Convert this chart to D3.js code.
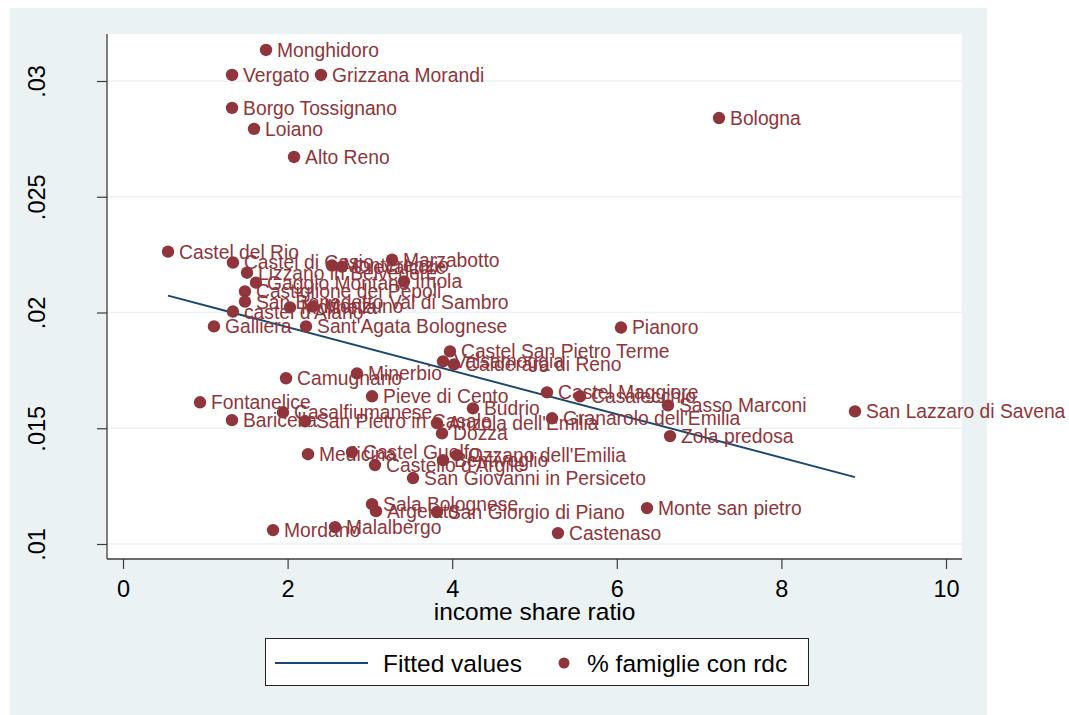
<!DOCTYPE html>
<html>
<head>
<meta charset="utf-8">
<script src="https://cdn.jsdelivr.net/npm/d3@7"></script>
<style>
  html, body { margin: 0; padding: 0; background: #ffffff; }
  svg { display: block; font-family: "Liberation Sans", Arial, Helvetica, sans-serif; }
</style>
</head>
<body>
<div id="chart"></div>
<script>
// ---- Data ----
const comuni = [
  "Monghidoro","Vergato","Grizzana Morandi","Borgo Tossignano","Loiano","Bologna","Alto Reno",
  "Castel del Rio","Castel di Casio","Marzabotto","Monterenzio","Crevalcore","Lizzano in Belvedere",
  "Gaggio Montano","Imola","Castiglione dei Pepoli","San Benedetto Val di Sambro","Molinella","Monzuno",
  "castel d'Aiano","Galliera","Sant'Agata Bolognese","Pianoro","Castel San Pietro Terme","Valsamoggia",
  "Calderara di Reno","Camugnano","Minerbio","Pieve di Cento","Fontanelice","Casalfiumanese","Baricella",
  "San Pietro in Casale","Budrio","Castel Maggiore","Casalecchio","Sasso Marconi","San Lazzaro di Savena",
  "Granarolo dell'Emilia","Anzola dell'Emilia","Dozza","Zola predosa","Medicina","Castel Guelfo",
  "Castello d'Argile","Bentivoglio","Ozzano dell'Emilia","San Giovanni in Persiceto","Sala Bolognese",
  "Argelato","San Giorgio di Piano","Monte san pietro","Malalbergo","Mordano","Castenaso"
];
const incomeShareRatio = [
  1.738,1.325,2.406,1.325,1.592,7.242,2.078,
  0.547,1.336,3.269,2.539,2.661,1.507,
  1.616,3.414,1.482,1.482,2.029,2.309,
  1.336,1.105,2.224,6.051,3.973,3.888,
  4.022,1.981,2.843,3.026,0.936,1.944,1.324,
  2.211,4.252,5.152,5.553,6.622,8.894,
  5.213,3.815,3.876,6.647,2.248,2.782,
  3.062,3.888,4.058,3.524,3.026,
  3.074,3.815,6.367,2.576,1.823,5.285
];
const famiglieRdc = [
  0.03134,0.03026,0.03026,0.02884,0.02793,0.02840,0.02672,
  0.02263,0.02216,0.02228,0.02203,0.02198,0.02172,
  0.02129,0.02134,0.02091,0.02047,0.02022,0.02026,
  0.02004,0.01940,0.01940,0.01935,0.01832,0.01789,
  0.01776,0.01716,0.01737,0.01638,0.01612,0.01569,0.01535,
  0.01530,0.01586,0.01655,0.01638,0.01599,0.01573,
  0.01543,0.01522,0.01478,0.01466,0.01388,0.01397,
  0.01341,0.01362,0.01384,0.01285,0.01172,
  0.01142,0.01138,0.01155,0.01073,0.01060,0.01047
];
// Fitted values (endpoints of the straight fit line)
const fitX = [0.547, 8.894];
const fitY = [0.02073, 0.01289];

const xTicks = [0, 2, 4, 6, 8, 10];
const yTicks = [0.01, 0.015, 0.02, 0.025, 0.03];
const yTickLabels = [".01", ".015", ".02", ".025", ".03"];
const xTitle = "income share ratio";
const legendLabels = ["Fitted values", "% famiglie con rdc"];

// ---- Layout & style ----
const W = 1069, H = 715;
const BG = "#eaf2f3";
const MARK = "#90353b";
const LINE = "#1a476f";
const AXIS = "#3c3c3c";
const plot = { left: 107, right: 962, top: 34, bottom: 559 };

const svg = d3.select("#chart").append("svg").attr("width", W).attr("height", H);

// outer background
svg.append("rect").attr("x", 10).attr("y", 8).attr("width", 977).attr("height", 707).attr("fill", BG);
// plot region
svg.append("rect").attr("x", plot.left).attr("y", plot.top)
  .attr("width", plot.right - plot.left).attr("height", plot.bottom - plot.top).attr("fill", "#ffffff");

const x = d3.scaleLinear().domain([0, 10]).range([123, 946]);
const y = d3.scaleLinear().domain([0.01, 0.03]).range([544, 81]);

// gridlines
svg.append("g").selectAll("line").data(yTicks).join("line")
  .attr("x1", plot.left).attr("x2", plot.right)
  .attr("y1", d => y(d)).attr("y2", d => y(d))
  .attr("stroke", BG).attr("stroke-width", 1.6);

// Y axis
const yAxis = d3.axisLeft(y).tickValues(yTicks).tickSize(10).tickPadding(0)
  .tickFormat((d, i) => yTickLabels[i]);
const gy = svg.append("g").attr("transform", `translate(${plot.left},0)`).call(yAxis);
gy.select(".domain").remove();
gy.selectAll(".tick line").attr("stroke", AXIS).attr("stroke-width", 1.2);
gy.selectAll(".tick text")
  .attr("x", null).attr("dy", null)
  .attr("text-anchor", "middle")
  .attr("transform", "translate(-62,0) rotate(-90)")
  .attr("fill", "#000").style("font-size", "23.5px");

// X axis
const xAxis = d3.axisBottom(x).tickValues(xTicks).tickSize(10).tickPadding(0)
  .tickFormat(d3.format("d"));
const gx = svg.append("g").attr("transform", `translate(0,${plot.bottom})`).call(xAxis);
gx.select(".domain").remove();
gx.selectAll(".tick line").attr("stroke", AXIS).attr("stroke-width", 1.2);
gx.selectAll(".tick text").attr("y", 38).attr("dy", null)
  .attr("fill", "#000").style("font-size", "23.5px");

// axis lines
svg.append("line").attr("x1", plot.left).attr("x2", plot.left).attr("y1", plot.top).attr("y2", plot.bottom)
  .attr("stroke", AXIS).attr("stroke-width", 1.3);
svg.append("line").attr("x1", plot.left).attr("x2", plot.right).attr("y1", plot.bottom).attr("y2", plot.bottom)
  .attr("stroke", AXIS).attr("stroke-width", 1.3);

// x title
svg.append("text").attr("x", (plot.left + plot.right) / 2).attr("y", 620)
  .attr("text-anchor", "middle").style("font-size", "24.5px").attr("fill", "#000").text(xTitle);

// fitted line
const fitData = fitX.map((v, i) => [v, fitY[i]]);
svg.append("path").datum(fitData)
  .attr("d", d3.line().x(d => x(d[0])).y(d => y(d[1])))
  .attr("fill", "none").attr("stroke", LINE).attr("stroke-width", 2);

// points
const pts = comuni.map((n, i) => ({ name: n, xv: incomeShareRatio[i], yv: famiglieRdc[i] }));
svg.append("g").selectAll("circle").data(pts).join("circle")
  .attr("cx", d => x(d.xv)).attr("cy", d => y(d.yv)).attr("r", 6.2).attr("fill", MARK);
svg.append("g").selectAll("text").data(pts).join("text")
  .attr("x", d => x(d.xv) + 11).attr("y", d => y(d.yv)).attr("dy", "0.36em")
  .attr("fill", MARK).style("font-size", "19.3px").text(d => d.name);

// legend
const lg = svg.append("g");
lg.append("rect").attr("x", 265.5).attr("y", 638.5).attr("width", 543).attr("height", 47)
  .attr("fill", "#fff").attr("stroke", "#222").attr("stroke-width", 1);
lg.append("line").attr("x1", 275).attr("x2", 368).attr("y1", 663).attr("y2", 663)
  .attr("stroke", LINE).attr("stroke-width", 2);
lg.append("text").attr("x", 383).attr("y", 663).attr("dy", "0.36em")
  .style("font-size", "24.5px").attr("fill", "#000").text(legendLabels[0]);
lg.append("circle").attr("cx", 564).attr("cy", 663).attr("r", 5.5).attr("fill", MARK);
lg.append("text").attr("x", 587).attr("y", 663).attr("dy", "0.36em")
  .style("font-size", "24.5px").attr("fill", "#000").text(legendLabels[1]);
</script>
</body>
</html>
